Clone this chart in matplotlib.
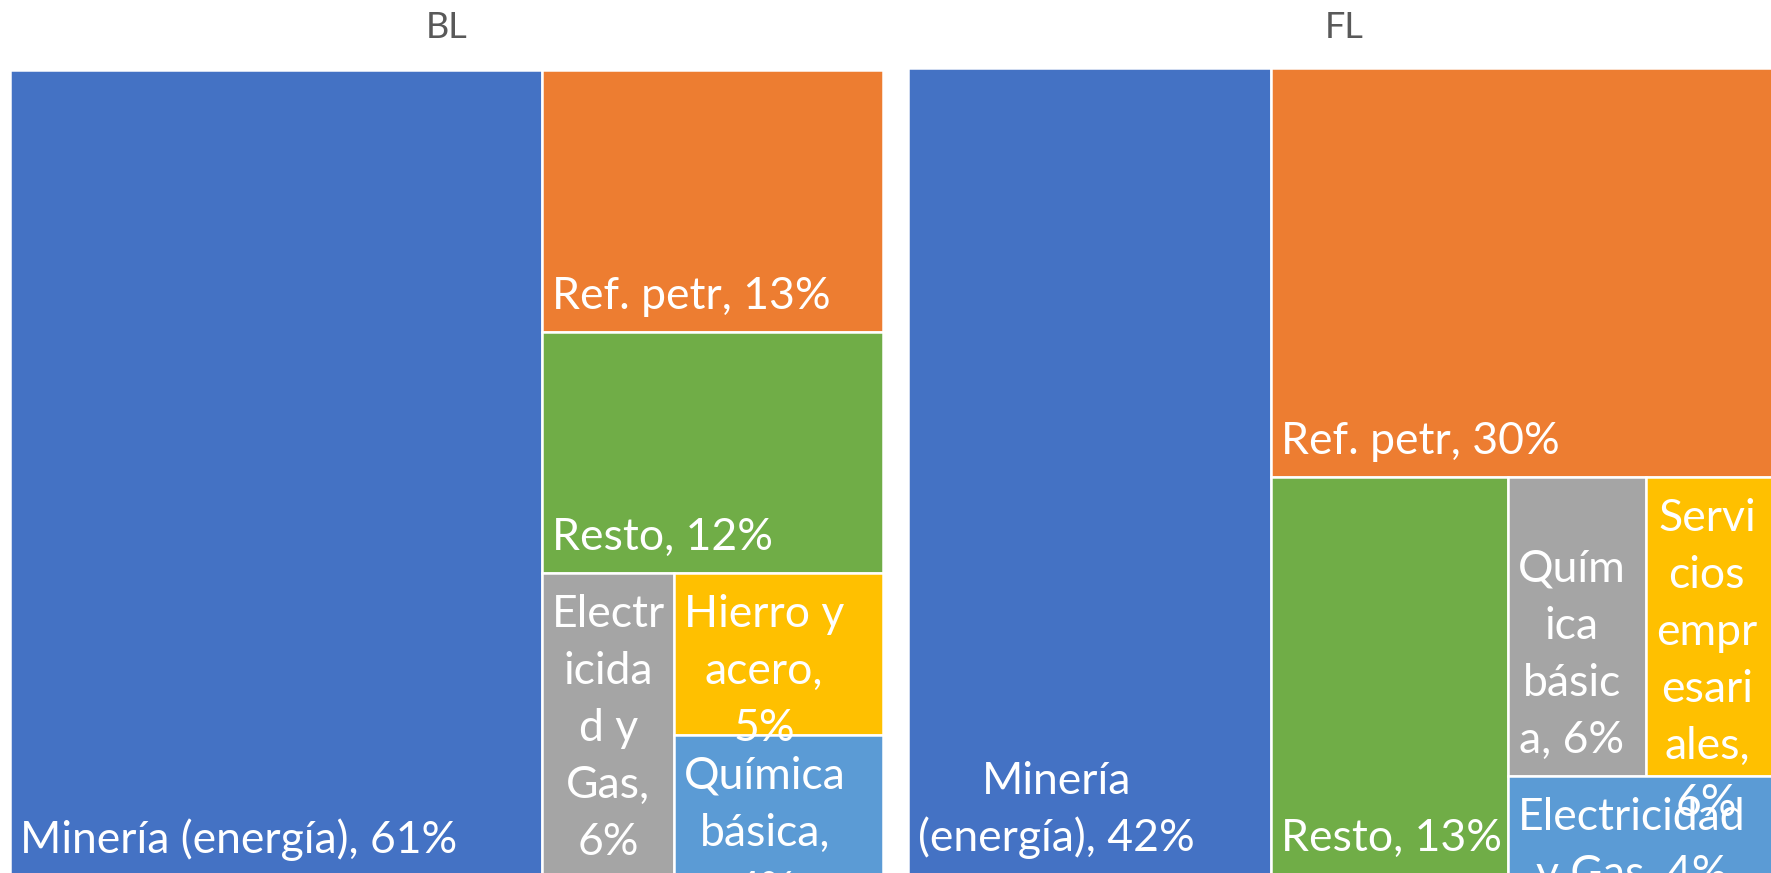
import matplotlib
matplotlib.use('Agg')
import matplotlib.pyplot as plt
from matplotlib.patches import Rectangle

plt.rcParams['font.family'] = ['Lato', 'DejaVu Sans']

# --- data (shares in %) ---
bl_sectors = ['Minería (energía)', 'Ref. petr', 'Resto', 'Electricidad y Gas',
              'Hierro y acero', 'Química básica']
bl_share = [60.9, 12.7, 11.7, 5.7, 4.8, 4.2]
bl_text = ['Minería (energía), 61%', 'Ref. petr, 13%', 'Resto, 12%',
           'Electr\nicida\nd y\nGas,\n6%', 'Hierro y\nacero,\n5%',
           'Química\nbásica,\n4%']

fl_sectors = ['Minería (energía)', 'Ref. petr', 'Resto', 'Química básica',
              'Servicios empresariales', 'Electricidad y Gas']
fl_share = [41.6, 29.6, 13.4, 5.9, 5.7, 3.8]
fl_text = ['Minería\n(energía), 42%', 'Ref. petr, 30%', 'Resto, 13%',
           'Quím\nica\nbásic\na, 6%', 'Servi\ncios\nempr\nesari\nales,\n6%',
           'Electricidad\ny Gas, 4%']

colors = ['#4472C4', '#ED7D31', '#70AD47', '#A5A5A5', '#FFC000', '#5B9BD5']

FW, FH = 1771, 873
STEP = 57


def treemap(values, groups, w, h):
    # strips go along the shorter side, like Excel
    rects = [None] * len(values)
    x, y = 0.0, 0.0
    left = sum(values)
    for g in groups:
        gs = sum(values[i] for i in g)
        if w >= h:
            cw = w * gs / left
            yy = y
            for i in g:
                hh = h * values[i] / gs
                rects[i] = (x, yy, cw, hh)
                yy += hh
            x += cw
            w -= cw
        else:
            rh = h * gs / left
            xx = x
            for i in g:
                ww = w * values[i] / gs
                rects[i] = (xx, y, ww, rh)
                xx += ww
            y += rh
            h -= rh
        left -= gs
    return rects


fig = plt.figure(figsize=(FW / 100, FH / 100), dpi=100)
renderer = fig.canvas.get_renderer()


def draw(px_left, px_top, W, H, values, groups, texts, title):
    ax = fig.add_axes([px_left / FW, (FH - px_top - H) / FH, W / FW, H / FH])
    ax.set_xlim(0, W)
    ax.set_ylim(H, 0)
    ax.axis('off')
    rects = treemap(values, groups, W, H)
    for r, c, t in zip(rects, colors, texts):
        x, y, w, h = r
        ax.add_patch(Rectangle((x, y), w, h, facecolor=c, edgecolor='white',
                               linewidth=1.8))
        lines = t.split('\n')
        first = max(y + h - 23 - (len(lines) - 1) * STEP, y + 54)
        arts = [ax.text(0, 0, ln, color='white', fontsize=32, ha='center',
                        va='baseline', clip_on=False) for ln in lines]
        bw = max(a.get_window_extent(renderer).width for a in arts)
        cx = x + 10 + bw / 2
        for k, a in enumerate(arts):
            a.set_position((cx, first + k * STEP))
    fig.text((px_left + W / 2) / FW, 1 - 38 / FH, title, ha='center',
             va='baseline', fontsize=26, color='#595959')


draw(10, 70, 873, 806, bl_share, [[0], [1], [2], [3], [4], [5]], bl_text, 'BL')
draw(908, 68, 872, 806, fl_share, [[0], [1], [2], [3, 4], [5]], fl_text, 'FL')

fig.savefig('out.png', dpi=100, facecolor='white')
